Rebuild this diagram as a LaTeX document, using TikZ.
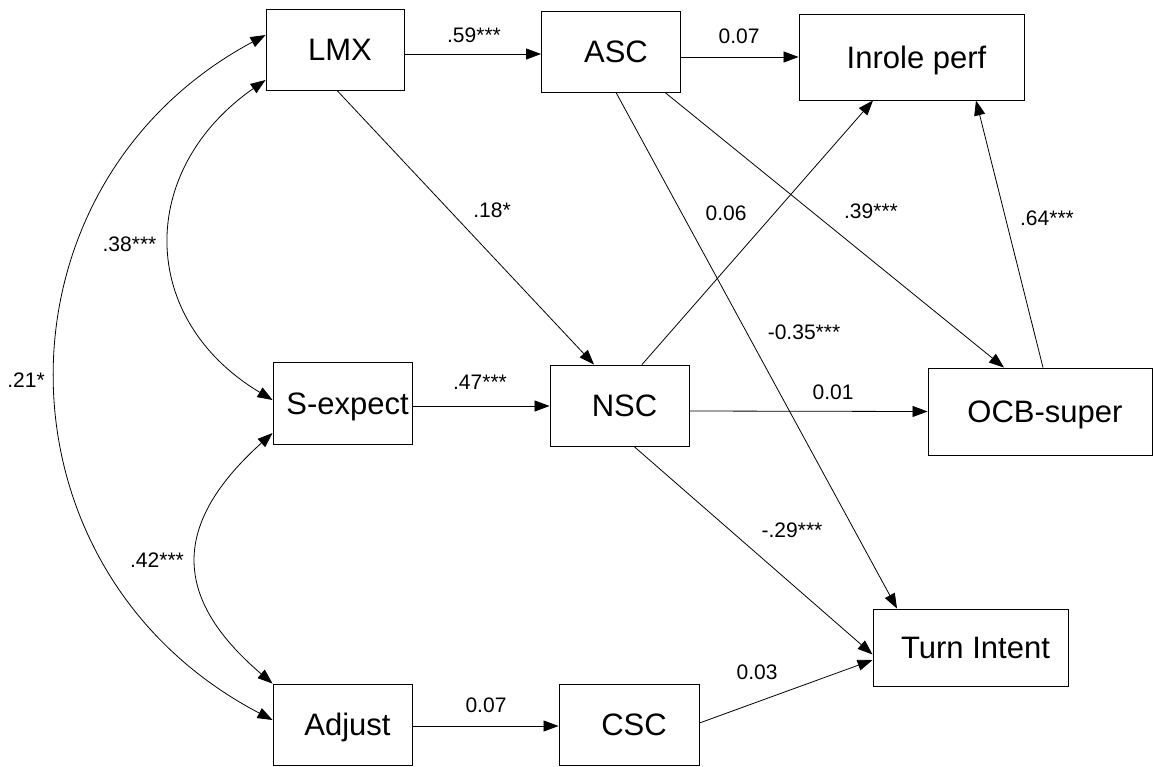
\documentclass[tikz,border=0pt]{standalone}
\usepackage{fontspec}
\setmainfont{Liberation Sans}
\usetikzlibrary{arrows.meta}

\begin{document}
\begin{tikzpicture}[
    x=1pt, y=-1pt,
    box/.style={rectangle, draw=black, line width=0.9pt, minimum width=139pt, minimum height=81pt, inner sep=0pt, font=\fontsize{31pt}{36pt}\selectfont, text height=22pt, text depth=0pt, execute at begin node={\hspace*{10pt}}},
    wide/.style={box, minimum width=225pt},
    coef/.style={inner sep=0pt, font=\fontsize{21pt}{25pt}\selectfont, text height=15pt, text depth=0pt},
    reg/.style={-{Triangle[length=15pt,width=11pt]}, line width=0.8pt},
    cov/.style={{Triangle[length=15pt,width=11pt]}-{Triangle[length=15pt,width=11pt]}, line width=0.8pt}
]
\useasboundingbox (0,0) rectangle (1153,766);

% Predictors (left column)
\node[box, minimum width=138pt] (lmx) at (335,49.5) {LMX};
\node[box, minimum height=82pt] (sexp) at (342.5,403) {S-expect};
\node[box] (adjust) at (342.5,724.5) {Adjust};

% Mediators (middle column)
\node[box] (asc) at (611,51.5) {ASC};
\node[box] (nsc) at (619.5,405.5) {NSC};
\node[box, minimum width=140pt] (csc) at (629,724.5) {CSC};

% Outcomes (right)
\node[wide, minimum height=86pt] (inrole) at (911.5,57) {Inrole perf};
\node[wide, minimum width=224pt, minimum height=87pt] (ocb) at (1040,411.5) {OCB-super};
\node[box, minimum width=195pt, minimum height=77pt] (turn) at (970.5,647.5) {Turn Intent};

% Correlations between predictors (curved, two heads)
\draw[cov] ([yshift=14.5pt]lmx.west) .. controls +(-280,150) and +(-287,-150) .. ([yshift=4.5pt]adjust.west);
\draw[cov] ([yshift=-30.5pt]lmx.west) .. controls +(-129,90) and +(-135,-81) .. ([yshift=3pt]sexp.west);
\draw[cov] ([yshift=-30pt]sexp.west) .. controls +(-100,90) and +(-102,-87) .. (adjust.north west);

% Paths (straight arrows)
\draw[reg] ([yshift=-4.5pt]lmx.east) -- ([yshift=-2.5pt]asc.west);
\draw[reg] ([yshift=-5.5pt]asc.east) -- (inrole.west);
\draw[reg] ([yshift=-3pt]sexp.east) -- ([yshift=-0.5pt]nsc.west);
\draw[reg] ([yshift=-5.5pt]nsc.east) -- (ocb.west);
\draw[reg] ([yshift=-1.5pt]adjust.east) -- ([yshift=-1.5pt]csc.west);
\draw[reg] ([xshift=2pt]lmx.south) -- ([xshift=-25.5pt]nsc.north);
\draw[reg] ([xshift=5pt]asc.south) -- ([xshift=-73.5pt]turn.north);
\draw[reg] ([xshift=54pt]asc.south) -- ([xshift=-36pt]ocb.north);
\draw[reg] ([xshift=22.5pt]nsc.north) -- ([xshift=-38.5pt]inrole.south);
\draw[reg] ([xshift=3pt]ocb.north) -- ([xshift=64.5pt]inrole.south);
\draw[reg] ([xshift=14.5pt]nsc.south) -- ([yshift=-7pt]turn.west);
\draw[reg] ([yshift=1.5pt]csc.east) -- ([yshift=-12.5pt]turn.west);

% Coefficients
\node[coef] (c_lmx_asc) at (474,35) {.59***};
\node[coef] (c_asc_inr) at (739,35.5) {0.07};
\node[coef] (c_lmx_nsc) at (492,209.5) {.18*};
\node[coef] (c_nsc_inr) at (726,213) {0.06};
\node[coef] (c_asc_ocb) at (871,211) {.39***};
\node[coef] (c_ocb_inr) at (1047,218) {.64***};
\node[coef] (c_asc_tur) at (804,332) {-0.35***};
\node[coef] (c_sex_nsc) at (480,382) {.47***};
\node[coef] (c_nsc_ocb) at (833,392) {0.01};
\node[coef] (c_nsc_tur) at (792,530) {-.29***};
\node[coef] (c_csc_tur) at (757,672) {0.03};
\node[coef] (c_adj_csc) at (486,705) {0.07};
\node[coef] (c_lmx_sex) at (129.5,244) {.38***};
\node[coef] (c_lmx_adj) at (26,380) {.21*};
\node[coef] (c_sex_adj) at (157,560) {.42***};

\end{tikzpicture}
\end{document}
